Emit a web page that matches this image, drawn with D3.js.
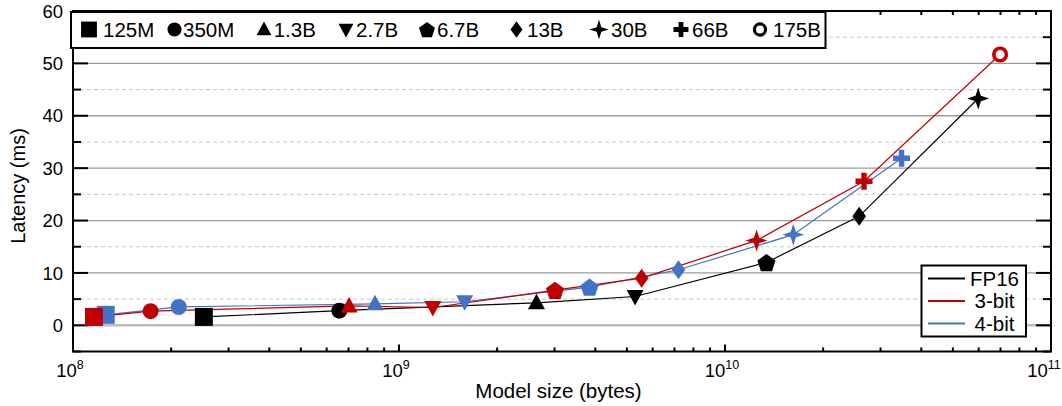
<!DOCTYPE html>
<html>
<head>
<meta charset="utf-8">
<script src="https://cdn.jsdelivr.net/npm/d3@7"></script>
<style>
  body { margin: 0; background: #fff; }
  svg { display: block; font-family: "Liberation Sans", Arial, sans-serif; }
</style>
</head>
<body>
<svg id="chart" width="1062" height="406"></svg>
<script>
// model names (legend order) and their marker shapes
const models = ["125M", "350M", "1.3B", "2.7B", "6.7B", "13B", "30B", "66B", "175B"];
const shapes = ["square", "circle", "triUp", "triDown", "pentagon", "diamond", "star", "plus", "ring"];

// model size in bytes / latency in ms, one entry per model (missing ones dropped at the end)
const fp16Size = [2.52e8, 6.56e8, 2.64e9, 5.3e9, 1.34e10, 2.58e10, 5.98e10];
const fp16Latency = [1.6, 2.8, 4.3, 5.5, 12.0, 20.8, 43.3];
const bit3Size = [1.16e8, 1.73e8, 7.03e8, 1.27e9, 3.01e9, 5.55e9, 1.25e10, 2.67e10, 6.98e10];
const bit3Latency = [1.6, 2.7, 3.7, 3.4, 6.7, 9.0, 16.2, 27.5, 51.7];
const bit4Size = [1.26e8, 2.11e8, 8.44e8, 1.59e9, 3.84e9, 7.2e9, 1.62e10, 3.48e10];
const bit4Latency = [2.0, 3.5, 4.1, 4.5, 7.3, 10.6, 17.3, 31.9];

const seriesNames = ["FP16", "3-bit", "4-bit"];
const seriesColors = ["#000000", "#c00000", "#4472c4"];

const yTicks = [0, 10, 20, 30, 40, 50, 60];
const yMinor = [-5, 5, 15, 25, 35, 45, 55];
const xDecades = [8, 9, 10, 11];

const svg = d3.select("#chart");
const pLeft = 73, pRight = 1051, pTop = 11, pBottom = 351.5;

const x = d3.scaleLog().domain([1e8, 1e11]).range([pLeft, pRight]);
const y = d3.scaleLinear().domain([-5, 60]).range([pBottom, pTop]);

// marker path builders, centred at 0,0
function markerPath(shape, s) {
  const p = d3.path();
  if (shape === "square") {
    const h = 9 * s;
    p.rect(-h, -h, 2 * h, 2 * h);
  } else if (shape === "circle") {
    p.arc(0, 0, 8 * s, 0, 2 * Math.PI);
  } else if (shape === "triUp") {
    p.moveTo(0, -9 * s); p.lineTo(8.5 * s, 6.5 * s); p.lineTo(-8.5 * s, 6.5 * s); p.closePath();
  } else if (shape === "triDown") {
    p.moveTo(0, 9 * s); p.lineTo(8.5 * s, -6.5 * s); p.lineTo(-8.5 * s, -6.5 * s); p.closePath();
  } else if (shape === "pentagon") {
    for (let i = 0; i < 5; i++) {
      const a = -Math.PI / 2 + i * 2 * Math.PI / 5;
      const px = Math.cos(a) * 9.5 * s, py = Math.sin(a) * 9.5 * s + 1 * s;
      if (i === 0) p.moveTo(px, py); else p.lineTo(px, py);
    }
    p.closePath();
  } else if (shape === "diamond") {
    p.moveTo(0, -9.5 * s); p.lineTo(6.8 * s, 0); p.lineTo(0, 9.5 * s); p.lineTo(-6.8 * s, 0); p.closePath();
  } else if (shape === "star") {
    const o = 11 * s, n = 3.8 * s;
    for (let i = 0; i < 8; i++) {
      const a = -Math.PI / 2 + i * Math.PI / 4;
      const r = i % 2 === 0 ? o : n;
      const px = Math.cos(a) * r, py = Math.sin(a) * r;
      if (i === 0) p.moveTo(px, py); else p.lineTo(px, py);
    }
    p.closePath();
  } else if (shape === "plus") {
    const a = 8.5 * s, t = 2.7 * s;
    p.moveTo(-t, -a); p.lineTo(t, -a); p.lineTo(t, -t); p.lineTo(a, -t); p.lineTo(a, t);
    p.lineTo(t, t); p.lineTo(t, a); p.lineTo(-t, a); p.lineTo(-t, t); p.lineTo(-a, t);
    p.lineTo(-a, -t); p.lineTo(-t, -t); p.closePath();
  }
  return p.toString();
}

function drawMarker(g, shape, cx, cy, color, s) {
  if (shape === "ring") {
    g.append("circle").attr("cx", cx).attr("cy", cy).attr("r", 6.3 * s)
      .attr("fill", "#fff").attr("stroke", color).attr("stroke-width", 3.6 * s);
  } else {
    g.append("path").attr("d", markerPath(shape, s))
      .attr("transform", `translate(${cx},${cy})`).attr("fill", color);
  }
}

// grid
const grid = svg.append("g");
grid.selectAll("line.minor").data(yMinor.filter(d => d > -5)).enter().append("line")
  .attr("x1", pLeft).attr("x2", pRight).attr("y1", d => y(d)).attr("y2", d => y(d))
  .attr("stroke", "#c8c8c8").attr("stroke-width", 1).attr("stroke-dasharray", "4,3");
grid.selectAll("line.major").data(yTicks.filter(d => d > 0 && d < 60)).enter().append("line")
  .attr("x1", pLeft).attr("x2", pRight).attr("y1", d => y(d)).attr("y2", d => y(d))
  .attr("stroke", "#9a9a9a").attr("stroke-width", 1.3);
grid.append("line").attr("x1", pLeft).attr("x2", pRight).attr("y1", y(0)).attr("y2", y(0))
  .attr("stroke", "#bdbdbd").attr("stroke-width", 2.5);

// ticks
const ticks = svg.append("g").attr("stroke", "#000").attr("stroke-width", 2);
yTicks.forEach(d => {
  ticks.append("line").attr("x1", pLeft).attr("x2", pLeft + 15).attr("y1", y(d)).attr("y2", y(d));
  ticks.append("line").attr("x1", pRight).attr("x2", pRight - 15).attr("y1", y(d)).attr("y2", y(d));
});
yMinor.forEach(d => {
  ticks.append("line").attr("x1", pLeft).attr("x2", pLeft + 8).attr("y1", y(d)).attr("y2", y(d));
  ticks.append("line").attr("x1", pRight).attr("x2", pRight - 8).attr("y1", y(d)).attr("y2", y(d));
});
xDecades.forEach(e => {
  const xv = x(Math.pow(10, e));
  ticks.append("line").attr("x1", xv).attr("x2", xv).attr("y1", pBottom).attr("y2", pBottom - 7);
  ticks.append("line").attr("x1", xv).attr("x2", xv).attr("y1", pTop).attr("y2", pTop + 7);
  if (e < 11) {
    for (let m = 2; m <= 9; m++) {
      const xm = x(m * Math.pow(10, e));
      ticks.append("line").attr("x1", xm).attr("x2", xm).attr("y1", pBottom).attr("y2", pBottom - 4);
      ticks.append("line").attr("x1", xm).attr("x2", xm).attr("y1", pTop).attr("y2", pTop + 4);
    }
  }
});

// series lines then markers
const series = [
  { name: "FP16", size: fp16Size, lat: fp16Latency, color: seriesColors[0] },
  { name: "4-bit", size: bit4Size, lat: bit4Latency, color: seriesColors[2] },
  { name: "3-bit", size: bit3Size, lat: bit3Latency, color: seriesColors[1] }
];
const line = d3.line().x(d => x(d[0])).y(d => y(d[1]));
const lineG = svg.append("g");
series.forEach(s => {
  lineG.append("path").datum(s.size.map((v, i) => [v, s.lat[i]]))
    .attr("d", line).attr("fill", "none").attr("stroke", s.color).attr("stroke-width", 1.2);
});
const markG = svg.append("g");
series.forEach(s => {
  s.size.forEach((v, i) => drawMarker(markG, shapes[i], x(v), y(s.lat[i]), s.color, 1));
});

// frame
svg.append("rect").attr("x", pLeft).attr("y", pTop).attr("width", pRight - pLeft).attr("height", pBottom - pTop)
  .attr("fill", "none").attr("stroke", "#000").attr("stroke-width", 2);

// tick labels
svg.append("g").selectAll("text").data(yTicks).enter().append("text")
  .attr("x", 63).attr("y", d => y(d) + 6.7).attr("text-anchor", "end")
  .attr("font-size", 18.5).text(d => d);
const xl = svg.append("g");
xDecades.forEach(e => {
  const t = xl.append("text").attr("x", e === 11 ? x(1e11) - 7 : x(Math.pow(10, e)) - 3).attr("y", 377)
    .attr("text-anchor", "middle").attr("font-size", 18.5);
  t.append("tspan").text("10");
  t.append("tspan").attr("font-size", 12.5).attr("dy", -8).text(e);
});

// axis titles
svg.append("text").attr("x", 558.5).attr("y", 398.3).attr("text-anchor", "middle")
  .attr("font-size", 20.5).text("Model size (bytes)");
svg.append("text").attr("transform", "translate(25,186) rotate(-90)").attr("text-anchor", "middle")
  .attr("font-size", 20).text("Latency (ms)");

// top legend (model sizes)
const legTop = svg.append("g");
legTop.append("rect").attr("x", 71).attr("y", 12).attr("width", 754.5).attr("height", 36)
  .attr("fill", "#fff").attr("stroke", "#000").attr("stroke-width", 2);
const legMarkX = [89, 174.5, 264, 346, 427, 516.5, 599, 681, 760];
const legTextX = [103, 183, 273.7, 356, 437, 527, 611, 692, 773];
models.forEach((m, i) => {
  drawMarker(legTop, shapes[i], legMarkX[i], 29.5, "#000", 0.88);
  legTop.append("text").attr("x", legTextX[i]).attr("y", 37)
    .attr("font-size", 20.5).text(m);
});

// series legend
const legS = svg.append("g");
legS.append("rect").attr("x", 921.5).attr("y", 265.5).attr("width", 104.5).attr("height", 71)
  .attr("fill", "#fff").attr("stroke", "#000").attr("stroke-width", 2);
seriesNames.forEach((n, i) => {
  const yy = 278.5 + i * 22.5;
  legS.append("line").attr("x1", 928).attr("x2", 965).attr("y1", yy).attr("y2", yy)
    .attr("stroke", seriesColors[i]).attr("stroke-width", 2);
  legS.append("text").attr("x", 994.5).attr("y", yy + 7.3).attr("text-anchor", "middle")
    .attr("font-size", 20.5).text(n);
});
</script>
</body>
</html>
